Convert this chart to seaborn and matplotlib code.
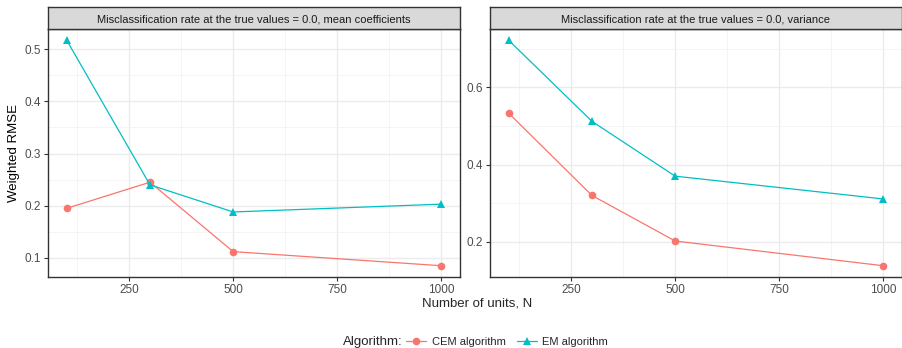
import pandas as pd
import seaborn as sns
import matplotlib.pyplot as plt
import matplotlib.ticker as ticker
from matplotlib.lines import Line2D

n_units = [100, 300, 500, 1000]
algorithms = ['CEM algorithm', 'EM algorithm']
panel_titles = ['Misclassification rate at the true values = 0.0, mean coefficients',
                'Misclassification rate at the true values = 0.0, variance']

mean_cem = [0.195, 0.245, 0.112, 0.085]
mean_em = [0.517, 0.240, 0.188, 0.203]
var_cem = [0.533, 0.320, 0.202, 0.138]
var_em = [0.722, 0.512, 0.370, 0.311]

colors = {'CEM algorithm': '#F8766D', 'EM algorithm': '#00BFC4'}
markers = {'CEM algorithm': 'o', 'EM algorithm': '^'}


def make_df(cem, em):
    return pd.DataFrame({
        'N': n_units * 2,
        'RMSE': cem + em,
        'Algorithm': [algorithms[0]] * 4 + [algorithms[1]] * 4,
    })


panels = [make_df(mean_cem, mean_em), make_df(var_cem, var_em)]
yticks = [[0.1, 0.2, 0.3, 0.4, 0.5], [0.2, 0.4, 0.6]]
yminor = [[0.15, 0.25, 0.35, 0.45], [0.1, 0.3, 0.5, 0.7]]

sns.set_theme(style='white')
plt.rcParams['font.family'] = ['Liberation Sans', 'DejaVu Sans']

fig = plt.figure(figsize=(9.03, 3.48), dpi=100)
lefts = [48 / 903, 490 / 903]
width = 412 / 903
bottom = 1 - 277 / 348
height = 248 / 348
strip_h = 22 / 348

for i, df in enumerate(panels):
    ax = fig.add_axes([lefts[i], bottom, width, height])
    ax.set_facecolor('white')
    sns.lineplot(data=df, x='N', y='RMSE', hue='Algorithm', style='Algorithm',
                 palette=colors, markers=markers, dashes=False, linewidth=0.9,
                 markersize=5.5, markeredgewidth=0, legend=False, ax=ax)

    lo, hi = df['RMSE'].min(), df['RMSE'].max()
    pad = (hi - lo) * 0.05
    ax.set_ylim(lo - pad, hi + pad)
    ax.set_xlim(100 - 45, 1000 + 45)

    ax.set_xticks([250, 500, 750, 1000])
    ax.xaxis.set_minor_locator(ticker.FixedLocator([125, 375, 625, 875]))
    ax.set_yticks(yticks[i])
    ax.yaxis.set_minor_locator(ticker.FixedLocator(yminor[i]))
    ax.grid(which='major', color='#EBEBEB', linewidth=1.0)
    ax.grid(which='minor', color='#F2F2F2', linewidth=0.6)
    ax.set_axisbelow(True)

    ax.tick_params(axis='both', which='major', length=3, width=0.8, color='#333333',
                   labelsize=8.5, labelcolor='#4D4D4D', pad=2, direction='out',
                   bottom=True, left=True)
    ax.tick_params(which='minor', length=0)
    for s in ax.spines.values():
        s.set_color('#333333')
        s.set_linewidth(1.0)

    ax.set_xlabel('')
    ax.set_ylabel('Weighted RMSE' if i == 0 else '', fontsize=9.5, color='black',
                  labelpad=3)

    sx = fig.add_axes([lefts[i], bottom + height, width, strip_h])
    sx.set_facecolor('#D9D9D9')
    sx.set_xticks([])
    sx.set_yticks([])
    for s in sx.spines.values():
        s.set_color('#333333')
        s.set_linewidth(1.0)
    sx.text(0.5, 0.45, panel_titles[i], ha='center', va='center',
            fontsize=8, color='#1A1A1A', transform=sx.transAxes)

fig.text(477 / 903, 1 - 304 / 348, 'Number of units, N', ha='center', va='center',
         fontsize=9.5)

handles = [Line2D([0], [0], color=colors[a], marker=markers[a], markersize=5.5,
                  markeredgewidth=0, linewidth=0.9) for a in algorithms]
fig.text(343 / 903, 1 - 342 / 348, 'Algorithm:', ha='left', va='center', fontsize=9.5)
fig.legend(handles, algorithms, loc='center left', bbox_to_anchor=(406 / 903, 1 - 342 / 348),
           ncol=2, frameon=False, fontsize=8, handlelength=1.8, handletextpad=0.5,
           columnspacing=1.0, borderaxespad=0, borderpad=0)

fig.savefig('out.png', dpi=100)
